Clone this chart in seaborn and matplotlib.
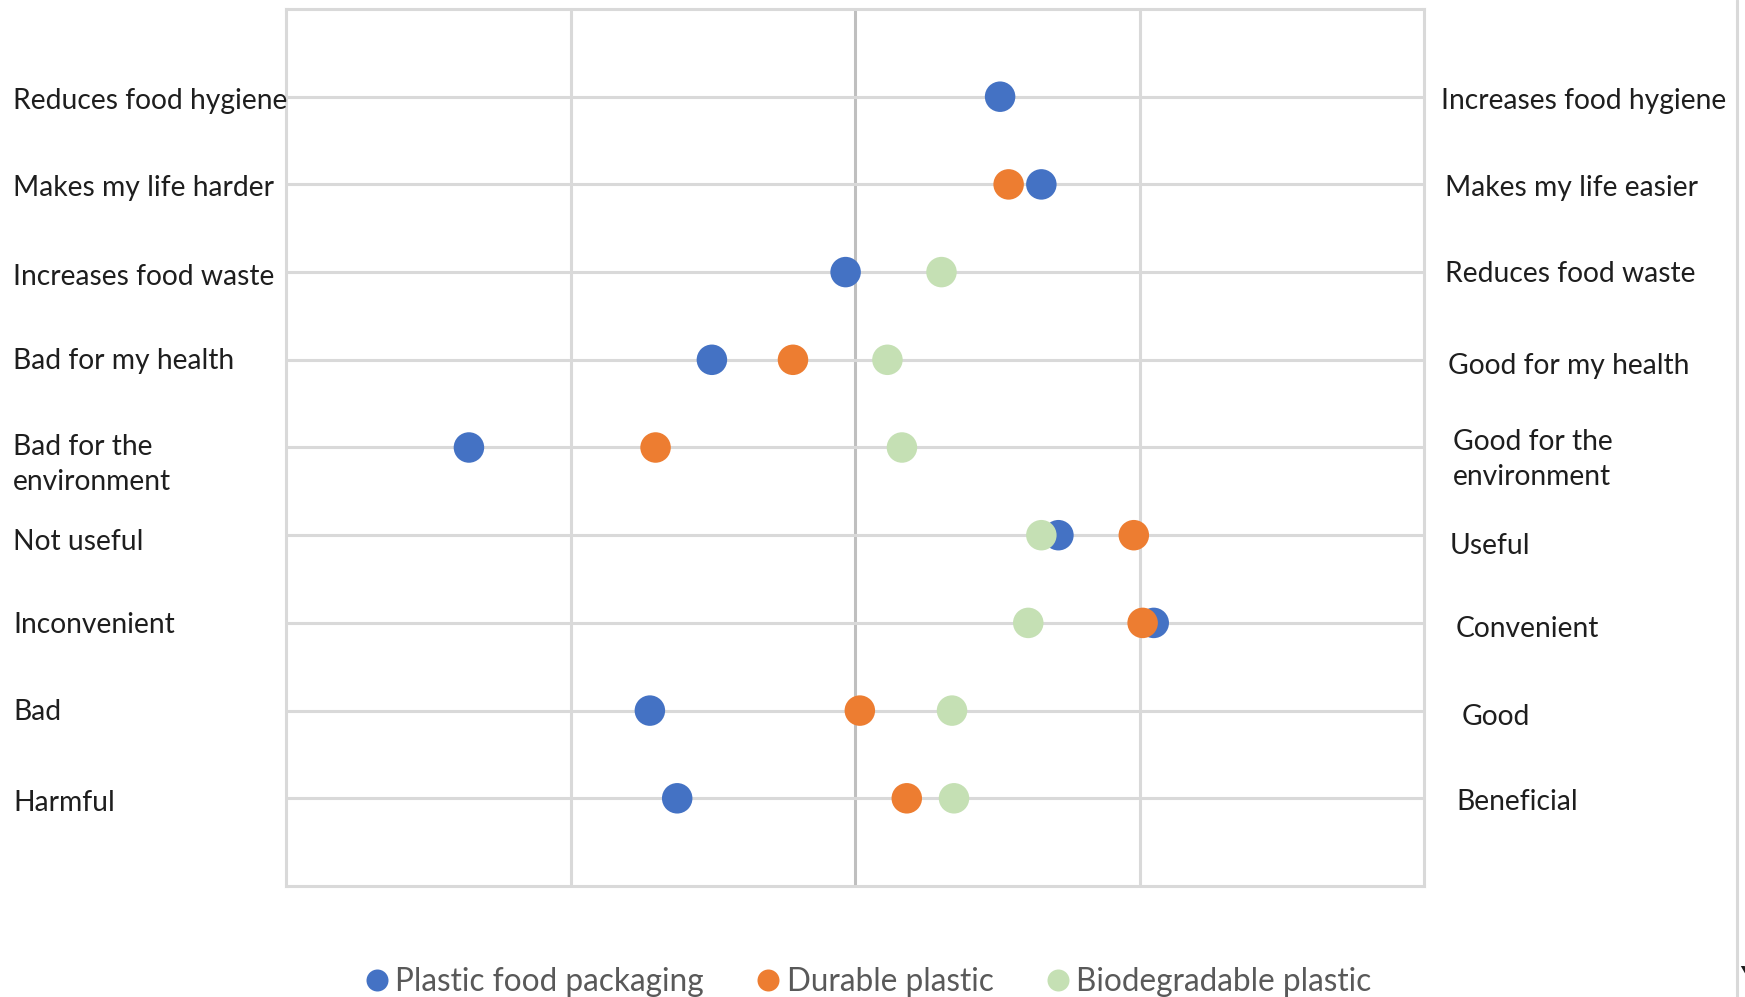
import numpy as np
import pandas as pd
import matplotlib
matplotlib.use("Agg")
import matplotlib.pyplot as plt
from matplotlib.lines import Line2D
from matplotlib.transforms import blended_transform_factory
import seaborn as sns

# Semantic-differential pairs (negative pole on the left, positive pole on the right)
negative_labels = ["Reduces food hygiene", "Makes my life harder", "Increases food waste",
                   "Bad for my health", "Bad for the\nenvironment", "Not useful",
                   "Inconvenient", "Bad", "Harmful"]
positive_labels = ["Increases food hygiene", "Makes my life easier", "Reduces food waste",
                   "Good for my health", "Good for the\nenvironment", "Useful",
                   "Convenient", "Good", "Beneficial"]

series_names = ["Plastic food packaging", "Durable plastic", "Biodegradable plastic"]
plastic_food_packaging = [0.51, 0.655, -0.033, -0.503, -1.357, 0.715, 1.05, -0.721, -0.625]
durable_plastic = [np.nan, 0.54, np.nan, -0.218, -0.701, 0.98, 1.011, 0.017, 0.182]
biodegradable_plastic = [np.nan, np.nan, 0.304, 0.114, 0.165, 0.655, 0.609, 0.341, 0.348]

x_gridlines = [-1, 0, 1]
x_limits = (-2, 2)

# ---- layout (pixels of a 1745 x 997 canvas) ----
W, H = 1745, 997
AX_L, AX_R, AX_T, AX_B = 286, 1424, 9, 886
LEFT_TEXT_X = 13
RIGHT_TEXT_X = [1441, 1445, 1445, 1448, 1453, 1450, 1456, 1462, 1456]
TEXT_SHIFT = 4                                   # px, baseline correction for va="center"
LEFT_NUDGE = [0, 0, 1, -3, 13, 3, -2, -3, 1]     # px, positive = down
RIGHT_NUDGE = [0, 0, -2, 2, 8, 7, 2, 2, 0]

colors = {"Plastic food packaging": "#4472C4",
          "Durable plastic": "#ED7D31",
          "Biodegradable plastic": "#C5E0B4"}

n_rows = len(negative_labels)
row_pos = [n_rows - i for i in range(n_rows)]

frames = []
for name, vals in zip(series_names, [plastic_food_packaging, durable_plastic, biodegradable_plastic]):
    frames.append(pd.DataFrame({"series": name, "score": vals, "row": row_pos}))
df = pd.concat(frames, ignore_index=True).dropna()

sns.set_theme(style="white")
plt.rcParams["font.family"] = ["Lato", "DejaVu Sans"]

fig = plt.figure(figsize=(W / 100, H / 100), dpi=100)
fig.patch.set_facecolor("white")
ax = fig.add_axes([AX_L / W, 1 - AX_B / H, (AX_R - AX_L) / W, (AX_B - AX_T) / H])

marker_px = 30.5
sns.scatterplot(data=df, x="score", y="row", hue="series", palette=colors,
                hue_order=series_names, s=(marker_px * 0.72) ** 2, linewidth=0,
                legend=False, ax=ax, zorder=3)

ax.set_xlim(*x_limits)
ax.set_ylim(0, n_rows + 1)
ax.set_xticks(x_gridlines)
ax.set_yticks(row_pos)
ax.set_xticklabels([])
ax.set_yticklabels([])
ax.tick_params(length=0)
ax.set_xlabel("")
ax.set_ylabel("")
ax.set_axisbelow(True)
ax.grid(True, color="#D9D9D9", linewidth=2.2)
for x_val, gl in zip(x_gridlines, ax.get_xgridlines()):
    if x_val == 0:
        gl.set_color("#BFBFBF")
for sp in ax.spines.values():
    sp.set_visible(True)
    sp.set_color("#D9D9D9")
    sp.set_linewidth(2.2)

px_per_unit = (AX_B - AX_T) / (n_rows + 1)
trans = blended_transform_factory(fig.transFigure, ax.transData)
label_size = 20.3
for i, (neg, pos) in enumerate(zip(negative_labels, positive_labels)):
    fig.text(LEFT_TEXT_X / W, row_pos[i] - (LEFT_NUDGE[i] + TEXT_SHIFT) / px_per_unit, neg,
             transform=trans, ha="left", va="center", fontsize=label_size,
             color="#1e1e1e", linespacing=1.4)
    fig.text(RIGHT_TEXT_X[i] / W, row_pos[i] - (RIGHT_NUDGE[i] + TEXT_SHIFT) / px_per_unit, pos,
             transform=trans, ha="left", va="center", fontsize=label_size,
             color="#1e1e1e", linespacing=1.4)

handles = [Line2D([0], [0], marker="o", linestyle="", markersize=22 * 0.72,
                  markerfacecolor=colors[n], markeredgecolor="none", label=n)
           for n in series_names]
fig.legend(handles=handles, loc="center", bbox_to_anchor=(868 / W, 1 - 982 / H),
           ncol=3, frameon=False, fontsize=22.7, labelcolor="#595959",
           handletextpad=0.18, columnspacing=1.65, handlelength=0.8)

# right-hand sheet border
fig.add_artist(Line2D([1737 / W, 1737 / W], [0, 1], color="#D9D9D9", linewidth=2.2))
fig.text(1740 / W, 1 - 966 / H, "Y", ha="left", va="top", fontsize=20,
         color="#1e1e1e", fontweight="bold")

fig.savefig("out.png", dpi=100, facecolor="white")
